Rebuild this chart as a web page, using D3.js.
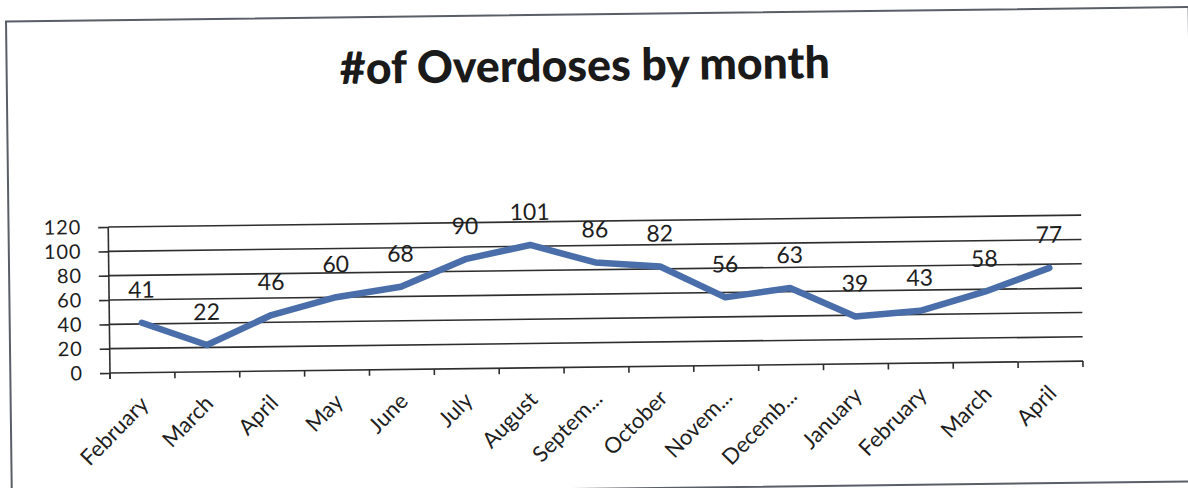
<!DOCTYPE html>
<html><head><meta charset="utf-8">
<script src="https://cdn.jsdelivr.net/npm/d3@7"></script>
<style>html,body{margin:0;padding:0;background:#fff;} svg{display:block;}</style>
</head><body>
<svg id="chart" width="1188" height="488"></svg>
<script>
// ---- data ----
const title = "#of Overdoses by month";
const months = ["February","March","April","May","June","July","August","Septem...","October","Novem...","Decemb...","January","February","March","April"];
const overdoses = [41,22,46,60,68,90,101,86,82,56,63,39,43,58,77];
const yTicks = [0,20,40,60,80,100,120];

// ---- layout ----
const W = 1188, H = 488;
const pivot = [110, 373];          // plot origin (scan is slightly rotated)
const tilt = -0.7;                 // degrees
const font = "Lato, 'Open Sans', sans-serif";
const ink = "#1e1e1e";

function toLocal(ax, ay) {
  const t = -tilt * Math.PI / 180;
  const dx = ax - pivot[0], dy = ay - pivot[1];
  return [pivot[0] + dx*Math.cos(t) - dy*Math.sin(t), pivot[1] + dx*Math.sin(t) + dy*Math.cos(t)];
}

const svg = d3.select("#chart");
svg.append("rect").attr("width", W).attr("height", H).attr("fill", "#fff");
const g = svg.append("g").attr("transform", `rotate(${tilt},${pivot[0]},${pivot[1]})`);

// border
const tl = toLocal(6, 20), br = toLocal(1186, 480);
g.append("rect")
  .attr("x", tl[0]).attr("y", tl[1] + 1.5)
  .attr("width", 1193 - tl[0]).attr("height", br[1] - tl[1])
  .attr("fill", "none").attr("stroke", "#5a5e66").attr("stroke-width", 2);

// title
const tp = toLocal(585, 81);
const tt = g.append("text").attr("x", tp[0]).attr("y", tp[1])
  .attr("text-anchor", "middle")
  .attr("font-family", font).attr("font-weight", 900).attr("font-size", 43)
  .attr("fill", "#1a1a1a").text(title);
const tw = tt.node().getComputedTextLength();
if (tw > 0) tt.attr("font-size", 43 * 490 / tw);

// scales
const x = d3.scaleBand().domain(d3.range(months.length)).range([110, 1083]).padding(0);
const y = d3.scaleLinear().domain([0, 120]).range([373, 227]);

// gridlines
g.append("g").selectAll("line").data(yTicks).join("line")
  .attr("x1", 110).attr("x2", 1083)
  .attr("y1", d => y(d)).attr("y2", d => y(d))
  .attr("stroke", "#2e2e2e").attr("stroke-width", 1.6);

// y axis
const yAxis = g.append("g").attr("transform", "translate(110,0)")
  .call(d3.axisLeft(y).tickValues(yTicks).tickSize(10).tickPadding(17));
yAxis.select(".domain").attr("d", `M0,${y(120)}V${y(0) + 6}`).attr("stroke", "#2e2e2e").attr("stroke-width", 1.6);
yAxis.selectAll(".tick line").attr("stroke", "#2e2e2e").attr("stroke-width", 1.6);
yAxis.selectAll(".tick text").attr("font-family", font).attr("font-size", 20)
  .attr("letter-spacing", 0.9).attr("fill", ink);

// x axis ticks at category boundaries
const bounds = d3.range(months.length).map(i => x(i)).concat([x.range()[1]]);
g.append("g").selectAll("line").data(bounds).join("line")
  .attr("x1", d => d).attr("x2", d => d)
  .attr("y1", y(0)).attr("y2", y(0) + 6)
  .attr("stroke", "#2e2e2e").attr("stroke-width", 1.6);

// category labels
g.append("g").selectAll("text").data(months).join("text")
  .attr("transform", (d, i) => `translate(${x(i) + x.bandwidth()/2 + 7},${y(0) + 33}) rotate(-45)`)
  .attr("text-anchor", "end")
  .attr("font-family", font).attr("font-size", 22).attr("fill", ink)
  .text(d => d);

// line
const line = d3.line().x((d, i) => x(i) + x.bandwidth()/2).y(d => y(d));
g.append("path").datum(overdoses)
  .attr("d", line)
  .attr("fill", "none").attr("stroke", "#4a6ea9").attr("stroke-width", 6.5)
  .attr("stroke-linejoin", "round").attr("stroke-linecap", "round");

// data labels
g.append("g").selectAll("text").data(overdoses).join("text")
  .attr("x", (d, i) => x(i) + x.bandwidth()/2)
  .attr("y", d => y(d) - 25)
  .attr("text-anchor", "middle")
  .attr("font-family", font).attr("font-size", 23).attr("fill", ink)
  .text(d => d);
</script>
</body></html>
